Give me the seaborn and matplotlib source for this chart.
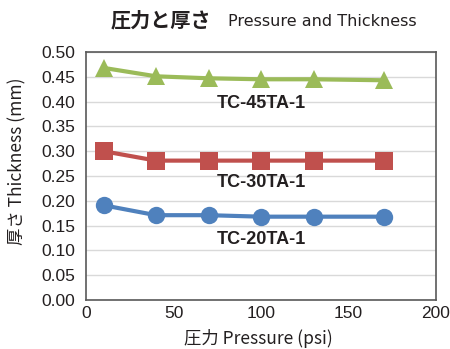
import matplotlib
matplotlib.use("Agg")
import matplotlib.pyplot as plt
import seaborn as sns
import pandas as pd

pressure = [10, 40, 70, 100, 130, 170]
tc45 = [0.468, 0.451, 0.447, 0.445, 0.445, 0.443]
tc30 = [0.300, 0.281, 0.281, 0.281, 0.281, 0.281]
tc20 = [0.191, 0.171, 0.171, 0.168, 0.168, 0.168]
series_names = ["TC-45TA-1", "TC-30TA-1", "TC-20TA-1"]
label_pos = [(100, 0.397), (100, 0.236), (100, 0.121)]
colors = ["#9BBB59", "#C0504D", "#4F81BD"]
markers = ["^", "s", "o"]

sns.set_theme(style="white")
plt.rcParams['font.family'] = ['Noto Sans CJK JP', 'DejaVu Sans']

fig = plt.figure(figsize=(4.5, 3.49), dpi=100)
ax = fig.add_axes([86/450, 1-300/349, 350/450, 248/349])

for name, vals, c, m in zip(series_names, [tc45, tc30, tc20], colors, markers):
    df = pd.DataFrame({"p": pressure, "t": vals})
    sns.lineplot(data=df, x="p", y="t", ax=ax, color=c, marker=m, linewidth=3,
                 markersize=12.5, markeredgewidth=0, zorder=3)

for name, (lx, ly) in zip(series_names, label_pos):
    ax.text(lx, ly, name, ha="center", va="center", fontsize=13, fontweight="bold",
            family="Liberation Sans", color="#231f20")

ax.set_xlim(0, 200)
ax.set_ylim(0, 0.5)
ax.set_xticks([0, 50, 100, 150, 200])
ax.set_yticks([i * 0.05 for i in range(11)])
ax.set_yticklabels([f"{i*0.05:.2f}" for i in range(11)])
ax.yaxis.grid(True, color="#d9d9d9", linewidth=1)
ax.set_axisbelow(True)
for s in ax.spines.values():
    s.set_color("#595959")
    s.set_linewidth(1.2)
ax.tick_params(axis="x", direction="in", length=5, color="#595959", labelsize=12.5, pad=4)
ax.tick_params(axis="y", direction="in", length=3, color="#595959", labelsize=12.5, pad=8)
for t in ax.get_xticklabels() + ax.get_yticklabels():
    t.set_family("Liberation Sans")
    t.set_color("#231f20")

ax.set_xlabel("")
ax.set_ylabel("")
fig.text(258/450, 1 - 338/349, "圧力 Pressure (psi)", ha="center", va="center",
         fontsize=12.5, color="#231f20", family=["Noto Sans CJK JP", "DejaVu Sans"])
fig.text(17/450, 1 - 161/349, "厚さ Thickness (mm)", ha="center", va="center",
         rotation=90, fontsize=12.5, color="#231f20")
fig.text(111/450, 1 - 20/349, "圧力と厚さ", ha="left", va="center",
         fontsize=14.5, fontweight="bold", color="#231f20")
fig.text(228/450, 1 - 21/349, "Pressure and Thickness", ha="left", va="center",
         fontsize=11.5, color="#231f20", family=["Liberation Sans Narrow", "DejaVu Sans"])

fig.savefig("out.png", dpi=100)
